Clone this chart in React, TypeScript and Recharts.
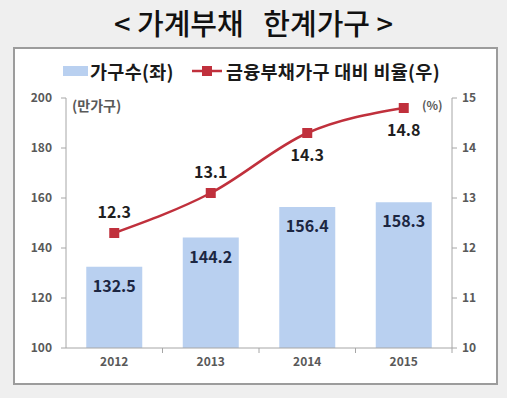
import React from "react";
import { ComposedChart, Bar, Line, XAxis, YAxis, LabelList } from "recharts";

const years = ["2012", "2013", "2014", "2015"];
const households = [132.5, 144.2, 156.4, 158.3];
const ratio = [12.3, 13.1, 14.3, 14.8];
const leftTicks = [100, 120, 140, 160, 180, 200];
const rightTicks = [10, 11, 12, 13, 14, 15];
const ratioLabelBelow = [false, false, true, true];

const data = years.map((y, i) => ({ year: y, households: households[i], ratio: ratio[i] }));

const FONT = "'Noto Sans CJK KR', 'Noto Sans', sans-serif";
const BAR = "#b9d0f0";
const RED = "#c0303c";
const AXIS = "#a6a6a6";

const XTick = (props: any) => {
  const { x, y, payload } = props;
  const half = payload && payload.offset ? payload.offset : 48;
  return (
    <g>
      <line x1={x + half} x2={x + half} y1={y - 8} y2={y - 3} stroke={AXIS} strokeWidth={1} />
      <text x={x} y={y + 10} textAnchor="middle" fontFamily={FONT} fontSize={12} fontWeight={600} fill="#595959">
        {payload.value}
      </text>
    </g>
  );
};

const SquareDot = (props: any) => {
  const { cx, cy, index } = props;
  return <rect key={`d${index}`} x={cx - 5} y={cy - 5} width={10} height={10} fill={RED} />;
};

const RatioLabel = (props: any) => {
  const { x, y, value, index } = props;
  const below = ratioLabelBelow[index];
  return (
    <text x={x} y={below ? y + 21 : y - 22} textAnchor="middle" dominantBaseline="central" fontFamily={FONT} fontSize={16} fontWeight={700} fill="#1f1f1f">
      {value}
    </text>
  );
};

const BarLabel = (props: any) => {
  const { x, y, width, value } = props;
  return (
    <text x={x + width / 2} y={y + 18} textAnchor="middle" dominantBaseline="central" fontFamily={FONT} fontSize={16} fontWeight={700} fill="#1c2642">
      {value}
    </text>
  );
};

export default function App() {
  return (
    <div style={{ position: "absolute", left: 0, top: 0, width: 507, height: 398, background: "#efefef", overflow: "hidden", fontFamily: FONT }}>
      <div style={{ position: "absolute", left: 0, top: 2, width: 507, textAlign: "center", fontSize: 29, lineHeight: "40px", color: "#111", fontWeight: 500, whiteSpace: "pre" }}>
        {"< 가계부채   한계가구 >"}
      </div>
      <div style={{ position: "absolute", left: 13, top: 47, width: 481, height: 334, background: "#fff", border: "2px solid #9c9c9c" }} />
      <div style={{ position: "absolute", left: 63, top: 57, height: 28, display: "flex", alignItems: "center", fontSize: 18.5, fontWeight: 700, color: "#1a1a1a", whiteSpace: "pre", letterSpacing: 0.3 }}>
        <span style={{ display: "inline-block", width: 25, height: 10, background: BAR, marginRight: 2 }} />
        <span>가구수(좌)</span>
        <svg width={32} height={14} style={{ marginLeft: 18, marginRight: 2 }}>
          <line x1={0} x2={30} y1={7} y2={7} stroke={RED} strokeWidth={2.5} />
          <rect x={10} y={2} width={10} height={10} fill={RED} />
        </svg>
        <span>금융부채가구 대비 비율(우)</span>
      </div>
      <div style={{ position: "absolute", left: 72, top: 95, fontSize: 14, fontWeight: 600, color: "#595959" }}>(만가구)</div>
      <div style={{ position: "absolute", left: 422, top: 96, fontSize: 12, fontWeight: 600, color: "#595959" }}>(%)</div>
      <div style={{ position: "absolute", left: 0, top: 0 }}>
        <ComposedChart width={507} height={398} data={data} margin={{ top: 98, right: 10, bottom: 20, left: 16 }} barCategoryGap="21%">
          <XAxis dataKey="year" xAxisId={0} height={30} stroke={AXIS} tickLine={false} tick={<XTick />} interval={0} />
          <YAxis yAxisId="left" orientation="left" width={50} domain={[100, 200]} ticks={leftTicks} stroke={AXIS} tickSize={5} dx={-7}
            tick={{ fontFamily: FONT, fontSize: 12, fontWeight: 600, fill: "#595959" }} allowDataOverflow />
          <YAxis yAxisId="right" orientation="right" width={45} domain={[10, 15]} ticks={rightTicks} stroke={AXIS} tickSize={5} dx={3}
            tick={{ fontFamily: FONT, fontSize: 12, fontWeight: 600, fill: "#595959" }} allowDataOverflow />
          <Bar yAxisId="left" dataKey="households" fill={BAR} isAnimationActive={false}>
            <LabelList dataKey="households" content={<BarLabel />} />
          </Bar>
          <Line yAxisId="right" type="monotone" dataKey="ratio" stroke={RED} strokeWidth={2.5} dot={<SquareDot />} activeDot={false} isAnimationActive={false}>
            <LabelList dataKey="ratio" content={<RatioLabel />} />
          </Line>
        </ComposedChart>
      </div>
    </div>
  );
}
